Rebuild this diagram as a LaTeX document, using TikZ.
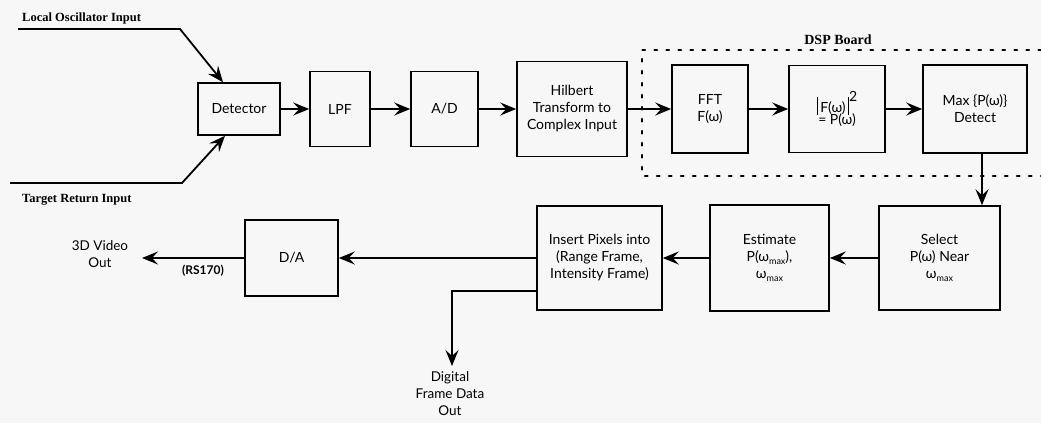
\documentclass[tikz,border=0pt]{standalone}
\usepackage{fontspec}
\setmainfont{Lato}
\newfontfamily\lblfont{Liberation Serif}
\usetikzlibrary{arrows.meta}
\definecolor{paper}{HTML}{F7F7F7}
\newcommand{\sbx}[1]{\raisebox{-0.5ex}{\small #1}}
\begin{document}
\begin{tikzpicture}[x=1pt,y=-1pt,
  blk/.style={draw, line width=1.6pt, align=center, inner sep=2pt, font=\fontsize{14}{17}\selectfont},
  arr/.style={line width=1.8pt, -{Stealth[length=16pt,width=13pt,inset=6pt]}},
  board/.style={line width=2.2pt, dash pattern=on 2.5pt off 9.5pt, line cap=round},
  lbl/.style={font=\lblfont\bfseries\fontsize{12.5}{15}\selectfont, inner sep=0pt},
  outlbl/.style={font=\fontsize{13.5}{17}\selectfont, align=center, inner sep=0pt}]
\fill[paper] (0,0) rectangle (1041,423);
\useasboundingbox (0,0) rectangle (1041,423);

% DSP board outline (open on the right)
\draw[board] (1041,50) -- (642,50) -- (642,176) -- (1041,176);
\node[lbl, font=\lblfont\bfseries\fontsize{14}{17}\selectfont] (dsp) at (838,40) {DSP Board};

% processing blocks, top row
\node[blk, minimum width=82pt, minimum height=52pt] (det) at (239,109) {Detector};
\node[blk, minimum width=60pt, minimum height=75pt] (lpf) at (340,109) {LPF};
\node[blk, minimum width=67pt, minimum height=75pt] (ad)  at (444.5,109) {A/D};
\node[blk, minimum width=110pt, minimum height=95pt] (hil) at (572,109) {Hilbert\\Transform to\\Complex Input};
\node[blk, minimum width=76pt, minimum height=88pt] (fft) at (710,109) {FFT\\F(ω)};
\node[blk, minimum width=96pt, minimum height=87pt] (pow) at (837,109)
  {\raisebox{-0.35ex}{\rule{1.2pt}{18pt}}\,F(ω)\,\raisebox{-0.35ex}{\rule{1.2pt}{18pt}}\raisebox{1.6ex}{2}\\[-5pt]= P(ω)};
\node[blk, minimum width=104pt, minimum height=88pt] (max) at (975,109) {Max \{P(ω)\}\\Detect};

% processing blocks, bottom row
\node[blk, minimum width=121pt, minimum height=104pt] (sel) at (939.5,258) {Select\\P(ω) Near\\ω\sbx{max}};
\node[blk, minimum width=119pt, minimum height=106pt] (est) at (769.5,258) {Estimate\\P(ω\sbx{max}),\\ω\sbx{max}};
\node[blk, minimum width=125pt, minimum height=104pt] (ins) at (599.5,258) {Insert Pixels into\\(Range Frame,\\Intensity Frame)};
\node[blk, minimum width=93pt, minimum height=76pt] (da) at (291.5,258) {D/A};

% inputs
\node[lbl, anchor=west] (lo) at (22,18) {Local Oscillator Input};
\node[lbl, anchor=west] (tr) at (22,200) {Target Return Input};
\coordinate (lo0) at (18,29);
\coordinate (lo1) at (180,29);
\coordinate (tr0) at (10,183);
\coordinate (tr1) at (182,183);
\draw[arr] (lo0) -- (lo1) -- ([xshift=-16pt]det.north);
\draw[arr] (tr0) -- (tr1) -- ([xshift=-14pt]det.south);

% signal chain
\draw[arr] (det) -- (lpf);
\draw[arr] (lpf) -- (ad);
\draw[arr] (ad) -- (hil);
\draw[arr] (hil) -- (fft);
\draw[arr] (fft) -- (pow);
\draw[arr] (pow) -- (max);
\draw[arr] ([xshift=7pt]max.south) -- ([xshift=7pt]max.south |- sel.north);
\draw[arr] (sel) -- (est);
\draw[arr] (est) -- (ins);
\draw[arr] (ins) -- (da);

% outputs
\node[outlbl] (vid) at (100,254) {3D Video\\Out};
\coordinate (vidtip) at (142,258);
\draw[arr] (da) -- (vidtip);
\node[outlbl, font=\bfseries\fontsize{12}{14}\selectfont] (rs) at (203,271) {(RS170)};

\coordinate (digc) at (452,291);
\coordinate (digtip) at (452,366);
\draw[arr] (ins.west |- digc) -- (digc) -- (digtip);
\node[outlbl, anchor=north] (dig) at (450,371) {Digital\\Frame Data\\Out};
\end{tikzpicture}
\end{document}
